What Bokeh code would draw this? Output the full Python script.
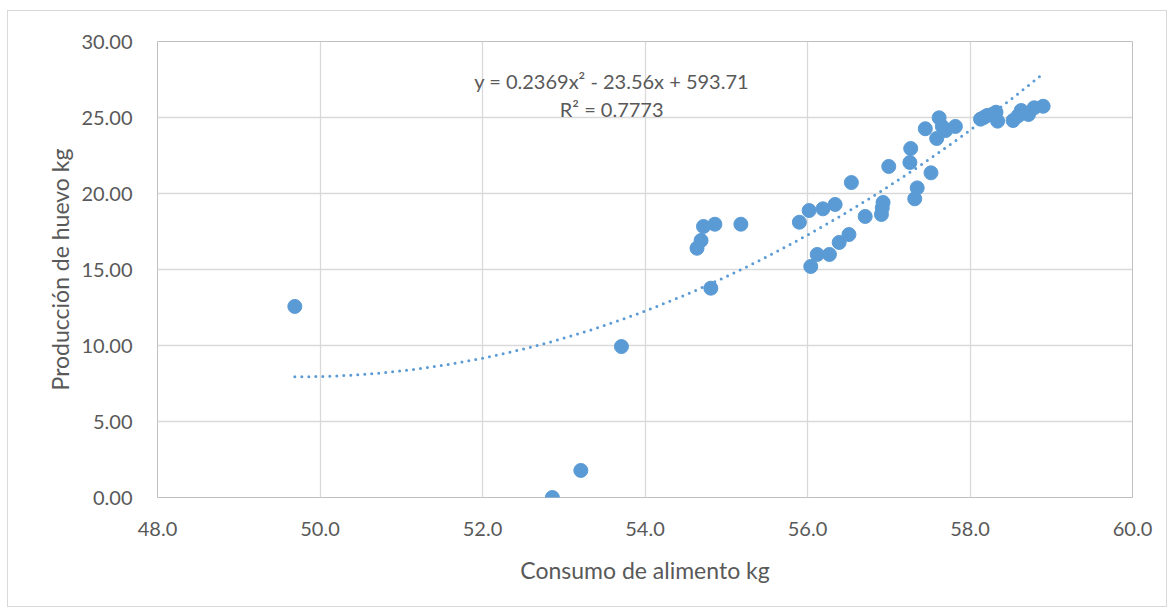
import numpy as np
from bokeh.plotting import figure
from bokeh.models import Label, SingleIntervalTicker, NumeralTickFormatter, ColumnDataSource
from bokeh.embed import file_html
from bokeh.resources import INLINE

# --- data ---
consumo = [49.69, 52.86, 53.21, 53.71, 54.64, 54.69, 54.72, 54.86, 54.81, 55.18,
           55.90, 56.02, 56.19, 56.34, 56.04, 56.12, 56.27, 56.39, 56.51, 56.54,
           56.71, 56.91, 56.93, 56.92, 57.00, 57.26, 57.27, 57.35, 57.32, 57.52,
           57.45, 57.62, 57.59, 57.70, 57.66, 57.82, 58.13, 58.17, 58.21, 58.27,
           58.32, 58.34, 58.53, 58.59, 58.63, 58.66, 58.72, 58.79, 58.90]
produccion = [12.57, 0.00, 1.78, 9.93, 16.40, 16.91, 17.83, 17.98, 13.77, 17.98,
              18.11, 18.88, 18.99, 19.28, 15.20, 15.99, 15.99, 16.78, 17.30, 20.72,
              18.49, 18.62, 19.41, 19.05, 21.78, 22.04, 22.96, 20.37, 19.65, 21.36,
              24.26, 24.98, 23.62, 24.14, 24.40, 24.41, 24.89, 25.00, 25.13, 25.20,
              25.35, 24.76, 24.80, 25.10, 25.46, 25.30, 25.20, 25.64, 25.74]
# trendline coefficients as displayed in the chart (y = a x^2 + b x + c)
coef_a, coef_b, coef_c = 0.2369, -23.56, 593.71
eq_text = "y = 0.2369x² - 23.56x + 593.71"
r2_text = "R² = 0.7773"
x_label = "Consumo de alimento kg"
y_label = "Producción de huevo kg"

FONT = "Lato"
TXT = "#595959"
BLUE = "#5b9bd5"

p = figure(width=1160, height=597, output_backend="svg", toolbar_location=None,
           x_range=(48, 60), y_range=(0, 30),
           min_border_left=149, min_border_right=36, min_border_top=30,
           min_border_bottom=111)
p.styles = {"border": "1px solid #d9d9d9", "margin-top": "10px", "margin-left": "7px"}

p.outline_line_color = "#bfbfbf"
p.outline_line_width = 1
p.background_fill_color = "white"
p.border_fill_color = "white"

p.xaxis.ticker = SingleIntervalTicker(interval=2, num_minor_ticks=0)
p.yaxis.ticker = SingleIntervalTicker(interval=5, num_minor_ticks=0)
p.xaxis.formatter = NumeralTickFormatter(format="0.0")
p.yaxis.formatter = NumeralTickFormatter(format="0.00")

for ax in (p.xaxis[0], p.yaxis[0]):
    ax.axis_line_color = None
    ax.major_tick_line_color = None
    ax.minor_tick_line_color = None
    ax.major_label_text_font = FONT
    ax.major_label_text_font_size = "20px"
    ax.major_label_text_color = TXT
    ax.axis_label_text_font = FONT
    ax.axis_label_text_font_size = "23px"
    ax.axis_label_text_color = TXT
    ax.axis_label_text_font_style = "normal"

p.xaxis.axis_label = x_label
p.yaxis.axis_label = y_label
p.xaxis.major_label_standoff = 18
p.yaxis.major_label_standoff = 19
p.xaxis.axis_label_standoff = 17
p.yaxis.axis_label_standoff = 4

p.xgrid.grid_line_color = "#d9d9d9"
p.ygrid.grid_line_color = "#d9d9d9"
p.xgrid.grid_line_width = 1.3
p.ygrid.grid_line_width = 1.3

# trendline
xt = np.linspace(min(consumo), max(consumo), 200)
yt = coef_a * xt ** 2 + coef_b * xt + coef_c
p.line(xt, yt, line_color=BLUE, line_width=3, line_dash="0 7", line_cap="round")

src = ColumnDataSource(dict(x=consumo, y=produccion))
p.scatter("x", "y", source=src, size=14, fill_color=BLUE, line_color=BLUE)

p.add_layout(Label(x=53.59, y=27.42, text=eq_text,
                   text_align="center", text_baseline="middle", text_font=FONT,
                   text_font_size="20px", text_color=TXT))
p.add_layout(Label(x=53.59, y=25.58, text=r2_text,
                   text_align="center", text_baseline="middle", text_font=FONT,
                   text_font_size="20px", text_color=TXT))

open("out.html", "w").write(file_html(p, INLINE))
